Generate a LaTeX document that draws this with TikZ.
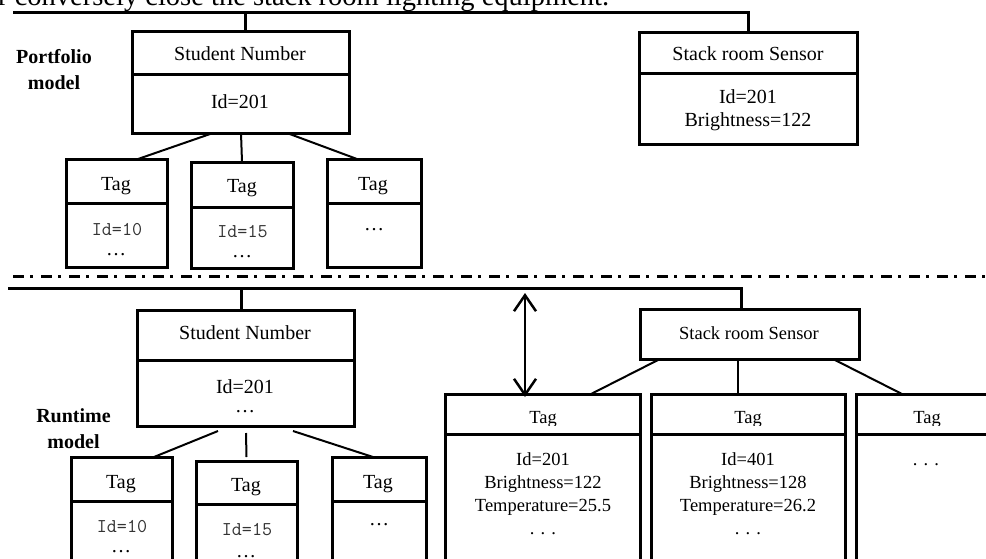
\documentclass[tikz,border=0pt]{standalone}
\usepackage{fontspec}
\setmainfont{Liberation Serif}
\usetikzlibrary{arrows.meta,calc,fit}
\newcommand\mysep[2]{\draw[sepl] ([yshift=-#2pt]#1.north west) -- ([yshift=-#2pt]#1.north east);}
\begin{document}
\begin{tikzpicture}[x=1pt,y=-1pt,
  box/.style={draw, line width=3pt, inner sep=0pt, outer sep=0pt},
  sepl/.style={line width=3pt},
  bus/.style={line width=3pt, line join=miter},
  conn/.style={line width=2pt},
  thinconn/.style={line width=1.3pt},
  txt/.style={anchor=base, inner sep=0pt, font=\fontsize{20}{24}\selectfont},
  txts/.style={anchor=base, inner sep=0pt, font=\fontsize{18.5}{22}\selectfont},
  mono/.style={anchor=base, inner sep=0pt, font=\ttfamily\fontsize{19.5}{23}\selectfont, text=black!80},
  lab/.style={anchor=base, inner sep=0pt, font=\bfseries\fontsize{20}{24}\selectfont},
  dbl/.style={line width=2.5pt, {Straight Barb[length=16pt,width=22pt]}-{Straight Barb[length=16pt,width=22pt]}},
]
\useasboundingbox (0,0) rectangle (986,558);
\clip (0,0) rectangle (986,558);

% top cropped text
\node[anchor=base west, inner sep=0pt, font=\fontsize{28.5}{34}\selectfont] (toptxt) at (-2,5)
  {r conversely close the stack room lighting equipment.};

% ---------------- Portfolio model ----------------
\node[lab] (lp1) at (54,63) {Portfolio};
\node[lab] (lp2) at (54,89) {model};

\node[box, fit={(132,31) (349,133)}] (PS) {};
\mysep{PS}{43}
\node[txt] (tPS1) at (240,60) {Student Number};
\node[txt] (tPS2) at (240,108) {Id=201};

\node[box, fit={(639,32) (857,144)}] (PSen) {};
\mysep{PSen}{41}
\node[txt] (tPSen1) at (748,60) {Stack room Sensor};
\node[txt] (tPSen2) at (748,103) {Id=201};
\node[txt] (tPSen3) at (748,126) {Brightness=122};

\node[box, fit={(66,159) (167,267)}] (T1) {};
\mysep{T1}{44}
\node[txt] (tT1a) at (116,190) {Tag};
\node[mono] (tT1b) at (117,235) {Id=10};
\node[txt] (tT1c) at (116,255) {…};

\node[box, fit={(191,162) (293,268)}] (T2) {};
\mysep{T2}{45}
\node[txt] (tT2a) at (242,192) {Tag};
\node[mono] (tT2b) at (242.5,237) {Id=15};
\node[txt] (tT2c) at (242,257) {…};

\node[box, fit={(327,159) (421,267)}] (T3) {};
\mysep{T3}{44}
\node[txt] (tT3a) at (373,190) {Tag};
\node[txt] (tT3c) at (374,230) {…};

\coordinate (b1) at (13,12);
\draw[bus] (b1) -| (PSen.north);
\draw[bus] ([xshift=4.5pt]PS.north) -- ([xshift=4.5pt]PS.north |- b1);
\draw[conn] ([xshift=-27.5pt]PS.south) -- ([xshift=21.5pt]T1.north);
\draw[conn] ([xshift=0.5pt]PS.south) -- (T2.north);
\draw[conn] ([xshift=46.5pt]PS.south) -- ([xshift=-17pt]T3.north);

% separator
\draw[line width=3pt, dash pattern=on 11pt off 6pt on 3pt off 8pt] (13,276) -- (990,276);

% ---------------- Runtime model ----------------
\node[lab] (lr1) at (73.5,422) {Runtime};
\node[lab] (lr2) at (73.5,448) {model};

\node[box, fit={(137,310) (354,426)}] (RS) {};
\mysep{RS}{50}
\node[txt] (tRS1) at (245,339) {Student Number};
\node[txt] (tRS2) at (245,393) {Id=201};
\node[txt] (tRS3) at (245,412) {…};

\node[box, fit={(71,457) (172,580)}] (R1) {};
\mysep{R1}{44}
\node[txt] (tR1a) at (121,488) {Tag};
\node[mono] (tR1b) at (122,532) {Id=10};
\node[txt] (tR1c) at (121,552) {…};

\node[box, fit={(196,461) (297,580)}] (R2) {};
\mysep{R2}{43}
\node[txt] (tR2a) at (246,491) {Tag};
\node[mono] (tR2b) at (247,535) {Id=15};
\node[txt] (tR2c) at (246,557) {…};

\node[box, fit={(332,457) (426,580)}] (R3) {};
\mysep{R3}{44}
\node[txt] (tR3a) at (378,488) {Tag};
\node[txt] (tR3c) at (379,525) {…};

\node[box, fit={(640,309) (859,359)}] (RSen) {};
\node[txts] (tRSen) at (749,339) {Stack room Sensor};

\node[box, fit={(445,394) (640,580)}] (TA) {};
\mysep{TA}{40}
\node[txts] (tTA2) at (543,465) {Id=201};
\node[txts] (tTA3) at (543,488) {Brightness=122};
\node[txts] (tTA4) at (543,511) {Temperature=25.5};
\node[txts] (tTA5) at (543,534) {. . .};

\node[box, fit={(651,394) (845,580)}] (TB) {};
\mysep{TB}{40}
\node[txts] (tTB2) at (748,465) {Id=401};
\node[txts] (tTB3) at (748,488) {Brightness=128};
\node[txts] (tTB4) at (748,511) {Temperature=26.2};
\node[txts] (tTB5) at (748,534) {. . .};

\node[box, fit={(856,394) (998,580)}] (TC) {};
\mysep{TC}{40}
\node[txts] (tTC5) at (926,465) {. . .};

\begin{scope}
  \clip (440,390) rectangle (1000,425.5);
  \node[txts] (tTA1) at (543,423) {Tag};
  \node[txts] (tTB1) at (748,423) {Tag};
  \node[txts] (tTC1) at (927,423) {Tag};
\end{scope}

\coordinate (b2) at (8,288);
\draw[bus] (b2) -| ([xshift=-8.5pt]RSen.north);
\draw[bus] ([xshift=-4.5pt]RS.north) -- ([xshift=-4.5pt]RS.north |- b2);
\draw[conn] ($(RS.south)+(-27.5,5)$) -- ($(R1.north)+(32.5,0)$);
\draw[conn] ($(RS.south)+(0.5,7)$) -- ($(R2.north)+(0,-4)$);
\draw[conn] ($(RS.south)+(47.5,5)$) -- ($(R3.north)+(-6,0)$);

\draw[conn] ([xshift=-89.5pt]RSen.south) -- ([xshift=48.5pt]TA.north);
\draw[thinconn] ([xshift=-11.5pt]RSen.south) -- ([xshift=-10pt]TB.north);
\draw[conn] ([xshift=83.5pt]RSen.south) -- ([xshift=-25pt]TC.north);

\coordinate (arrtop) at (525,293);
\draw[dbl] (arrtop) -- ($(TA.north -| arrtop)+(0,3)$);
\end{tikzpicture}
\end{document}
